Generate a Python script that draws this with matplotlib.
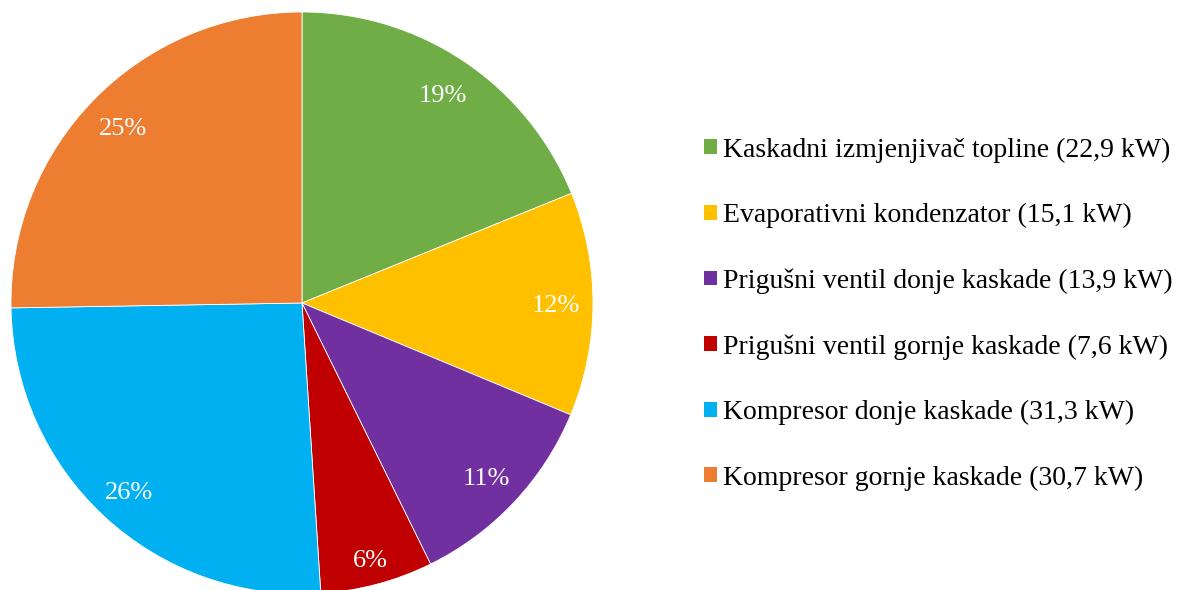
import matplotlib
matplotlib.use("Agg")
import matplotlib.pyplot as plt
from matplotlib.patches import Patch
import numpy as np

labels = [
    "Kaskadni izmjenjivač topline",
    "Evaporativni kondenzator",
    "Prigušni ventil donje kaskade",
    "Prigušni ventil gornje kaskade",
    "Kompresor donje kaskade",
    "Kompresor gornje kaskade",
]
values_kw = [22.9, 15.1, 13.9, 7.6, 31.3, 30.7]
colors = ["#70AD47", "#FFC000", "#7030A0", "#C00000", "#00B0F0", "#ED7D31"]

# radial placement of the percentage labels (fraction of the radius)
label_radius = [0.866, 0.872, 0.87, 0.91, 0.875, 0.865]

plt.rcParams["font.family"] = ["Liberation Serif", "DejaVu Serif"]

W, H = 1184, 590
fig = plt.figure(figsize=(W / 100, H / 100), dpi=100)

cx, cy, r = 302, 303, 291
ax = fig.add_axes([(cx - r) / W, (H - cy - r) / H, 2 * r / W, 2 * r / H])
wedges, texts, autotexts = ax.pie(
    values_kw,
    colors=colors,
    startangle=90,
    counterclock=False,
    autopct=lambda p: f"{p:.0f}%",
    pctdistance=0.87,
    radius=1.0,
    wedgeprops=dict(edgecolor="white", linewidth=0.6),
    textprops=dict(color="white", fontsize=19),
)
for w, t, d in zip(wedges, autotexts, label_radius):
    ang = np.deg2rad((w.theta1 + w.theta2) / 2)
    t.set_position((d * np.cos(ang), d * np.sin(ang)))
    t.set_verticalalignment("center_baseline")

ax.set_xlim(-1, 1)
ax.set_ylim(-1, 1)
ax.set_aspect("equal")
ax.axis("off")

legend_labels = [f"{l} ({str(v).replace('.', ',')} kW)" for l, v in zip(labels, values_kw)]
handles = [Patch(facecolor=c, edgecolor="none") for c in colors]
fig.legend(
    handles,
    legend_labels,
    loc="center left",
    bbox_to_anchor=(704 / W, 1 - 314 / H),
    frameon=False,
    fontsize=20,
    handlelength=0.45,
    handleheight=0.45,
    handletextpad=0.25,
    labelspacing=1.45,
    borderaxespad=0,
    borderpad=0,
)

fig.savefig("out.png", dpi=100)
